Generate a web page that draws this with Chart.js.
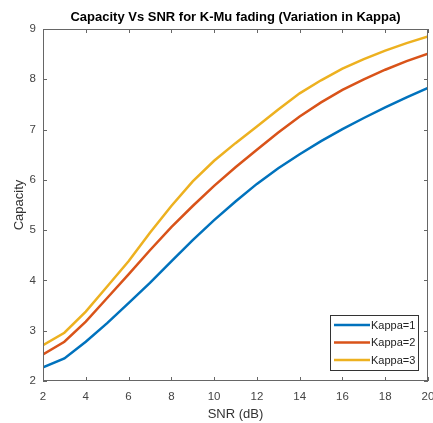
<!DOCTYPE html>
<html>
<head>
<meta charset="utf-8">
<script src="https://cdn.jsdelivr.net/npm/chart.js@4.4.1/dist/chart.umd.min.js"></script>
<style>
  html, body { margin: 0; padding: 0; background: #fff; overflow: hidden; }
  body { width: 433px; height: 423px; }
  canvas { display: block; }
</style>
</head>
<body>
<canvas id="chart" width="440" height="423"></canvas>
<script>
/* ═══════════════════════════════════════════
   DATA
═══════════════════════════════════════════ */
const snr = [2, 3, 4, 5, 6, 7, 8, 9, 10, 11, 12, 13, 14, 15, 16, 17, 18, 19, 20];
const kappa1 = [2.27, 2.45, 2.78, 3.15, 3.55, 3.95, 4.38, 4.80, 5.20, 5.57, 5.92, 6.23, 6.51, 6.77, 7.01, 7.23, 7.44, 7.64, 7.83];
const kappa2 = [2.53, 2.78, 3.18, 3.65, 4.12, 4.60, 5.06, 5.48, 5.88, 6.25, 6.60, 6.94, 7.26, 7.54, 7.79, 8.00, 8.19, 8.36, 8.51];
const kappa3 = [2.71, 2.96, 3.38, 3.88, 4.38, 4.95, 5.48, 5.97, 6.38, 6.73, 7.06, 7.40, 7.72, 7.98, 8.21, 8.40, 8.57, 8.72, 8.85];
const seriesNames = ['Kappa=1', 'Kappa=2', 'Kappa=3'];
const xTicks = [2, 4, 6, 8, 10, 12, 14, 16, 18, 20];
const yTicks = [2, 3, 4, 5, 6, 7, 8, 9];
const chartTitle = 'Capacity Vs SNR for K-Mu fading (Variation in Kappa)';

const FONT = '"Liberation Sans", Arial, Helvetica, sans-serif';
const AXIS = '#666666';
const colors = ['#0072BD', '#D95319', '#EDB120'];

const toXY = (ys) => ys.map((y, k) => ({ x: snr[k], y }));

/* ═══════════════════════════════════════════
   TITLE + BOX + INWARD TICKS + LEGEND (matlab look)
═══════════════════════════════════════════ */
const matlabFrame = {
  id: 'matlabFrame',
  afterDatasetsDraw(chart) {
    const { ctx, chartArea: a, scales: { x, y } } = chart;
    ctx.save();

    // title centred over the axes, not the canvas
    ctx.fillStyle = '#000';
    ctx.font = 'bold 13px ' + FONT;
    ctx.textAlign = 'center';
    ctx.textBaseline = 'middle';
    ctx.fillText(chartTitle, (a.left + a.right) / 2, 17.5);

    ctx.strokeStyle = AXIS;
    ctx.lineWidth = 1;
    ctx.strokeRect(a.left + 0.5, a.top + 0.5, a.right - a.left - 1, a.bottom - a.top - 1);
    const tl = 4;
    ctx.beginPath();
    xTicks.forEach(v => {
      const px = Math.round(x.getPixelForValue(v)) + 0.5;
      ctx.moveTo(px, a.bottom); ctx.lineTo(px, a.bottom - tl);
      ctx.moveTo(px, a.top); ctx.lineTo(px, a.top + tl);
    });
    yTicks.forEach(v => {
      const py = Math.round(y.getPixelForValue(v)) + 0.5;
      ctx.moveTo(a.left, py); ctx.lineTo(a.left + tl, py);
      ctx.moveTo(a.right, py); ctx.lineTo(a.right - tl, py);
    });
    ctx.stroke();

    // legend box, bottom right inside the axes
    const bw = 88, bh = 55;
    const bx = a.right - 10 - bw, by = a.bottom - 11 - bh;
    ctx.fillStyle = '#fff';
    ctx.fillRect(bx, by, bw, bh);
    ctx.strokeStyle = '#333';
    ctx.strokeRect(bx + 0.5, by + 0.5, bw, bh);
    ctx.font = '11px ' + FONT;
    ctx.textBaseline = 'middle';
    ctx.textAlign = 'left';
    chart.data.datasets.forEach((ds, k) => {
      const ry = by + 10 + k * 17.5;
      ctx.strokeStyle = ds.borderColor;
      ctx.lineWidth = 2.5;
      ctx.beginPath();
      ctx.moveTo(bx + 4, ry); ctx.lineTo(bx + 40, ry);
      ctx.stroke();
      ctx.fillStyle = '#222';
      ctx.fillText(ds.label, bx + 41, ry + 0.5);
    });
    ctx.restore();
  }
};

/* ═══════════════════════════════════════════
   CHART
═══════════════════════════════════════════ */
new Chart(document.getElementById('chart'), {
  type: 'line',
  data: {
    datasets: [kappa1, kappa2, kappa3].map((d, k) => ({
      label: seriesNames[k],
      data: toXY(d),
      borderColor: colors[k],
      backgroundColor: colors[k],
      borderWidth: 2.5,
      pointRadius: 0,
      tension: 0,
      fill: false
    }))
  },
  options: {
    responsive: false,
    animation: false,
    layout: { padding: { left: 0, right: 12, top: 29, bottom: 0 } },
    plugins: {
      legend: { display: false },
      tooltip: { enabled: false },
      title: { display: false }
    },
    scales: {
      x: {
        type: 'linear',
        min: 2, max: 20,
        afterBuildTicks: (s) => { s.ticks = xTicks.map(v => ({ value: v })); },
        afterFit: (s) => { s.height = 42; s.paddingLeft = 0; s.paddingRight = 0; },
        grid: { display: false, drawTicks: false },
        border: { display: false },
        ticks: { color: '#444', padding: 9, maxRotation: 0, font: { family: FONT, size: 11.5 } },
        title: {
          display: true, text: 'SNR (dB)', color: '#333',
          font: { family: FONT, size: 13 }, padding: { top: 0, bottom: 1 }
        }
      },
      y: {
        min: 2, max: 9,
        afterBuildTicks: (s) => { s.ticks = yTicks.map(v => ({ value: v })); },
        afterFit: (s) => { s.width = 43; s.paddingTop = 0; s.paddingBottom = 0; },
        grid: { display: false, drawTicks: false },
        border: { display: false },
        ticks: { color: '#444', padding: 7, font: { family: FONT, size: 11.5 } },
        title: {
          display: true, text: 'Capacity', color: '#333',
          font: { family: FONT, size: 13 }, padding: { top: 12, bottom: 0 }
        }
      }
    }
  },
  plugins: [matlabFrame]
});
</script>
</body>
</html>
